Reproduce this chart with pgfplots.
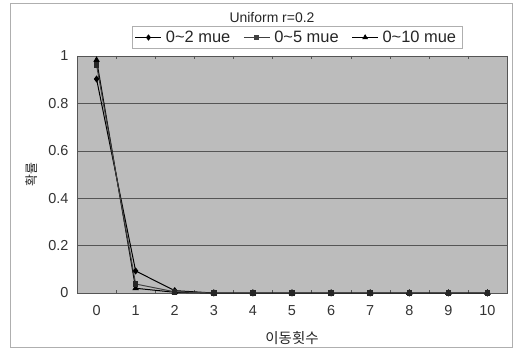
\documentclass[border=0pt]{standalone}
\usepackage{pgfplots}
\pgfplotsset{compat=1.18}
\usepackage{fontspec}
\setmainfont{Liberation Sans}
\newfontfamily\kr{Noto Sans CJK KR}
\definecolor{plotbg}{RGB}{188,188,188}
\definecolor{gridc}{RGB}{85,85,85}
\definecolor{framec}{RGB}{175,175,175}
\begin{document}
\begin{tikzpicture}[x=1bp,y=1bp]
\useasboundingbox (0,0) rectangle (517,348);
\draw[framec,line width=0.8bp] (10.5,1) rectangle (512.5,345);
\node[font=\fontsize{14}{16}\selectfont, text=black!85] at (272,330) {Uniform r=0.2};
\begin{axis}[
  at={(77bp,55bp)}, anchor=south west,
  scale only axis, width=430bp, height=237bp,
  xmin=-0.5, xmax=10.5, ymin=0, ymax=1,
  xtick={0,1,...,10},
  minor xtick={-0.5,0.5,...,10.5},
  ytick={0,0.2,0.4,0.6,0.8,1},
  yticklabels={0,0.2,0.4,0.6,0.8,1},
  major tick length=0pt, minor tick length=3bp,
  tick align=inside,
  minor tick style={gridc},
  ymajorgrids, major grid style={gridc,line width=0.6bp},
  axis background/.style={fill=plotbg},
  axis line style={gridc,line width=0.8bp},
  /pgf/number format/assume math mode=true,
  tick label style={font=\fontsize{14.5}{16}\selectfont, text=black!80},
  xticklabel style={yshift=-9bp},
  yticklabel style={xshift=-5bp},
  xlabel={\kr 이동횟수},
  ylabel={\kr 확률},
  xlabel style={at={(axis description cs:0.5,-0.19)}, anchor=center, font=\fontsize{14.5}{16}\selectfont, text=black!85},
  ylabel style={at={(axis description cs:-0.105,0.5)}, anchor=center, font=\fontsize{13}{15}\selectfont, text=black!85},
  legend style={at={(axis description cs:0.513,1.078)}, anchor=center,
    draw=framec, fill=white, font=\fontsize{16.5}{18}\selectfont, text=black!85,
    inner sep=2.5bp,
    nodes={inner xsep=4bp},
    /tikz/every even column/.append style={column sep=9bp}},
  legend columns=3,
  legend image code/.code={\draw[mark repeat=2,mark phase=2] plot coordinates {(0bp,0bp)(13bp,0bp)(26bp,0bp)};},
]
\addlegendimage{black, line width=0.9bp, mark=diamond*, mark size=2.5bp}
\addlegendentry{0\textasciitilde2 mue}
\addlegendimage{black!75, line width=0.9bp, mark=square*, mark size=2bp}
\addlegendentry{0\textasciitilde5 mue}
\addlegendimage{black, line width=0.9bp, mark=triangle*, mark size=2.5bp}
\addlegendentry{0\textasciitilde10 mue}

\addplot[black, line width=1bp, mark=triangle*, mark size=2.8bp, forget plot] coordinates {
(0,0.983) (1,0.02) (2,0.003) (3,0) (4,0) (5,0) (6,0) (7,0) (8,0) (9,0) (10,0)};
\addplot[black, line width=1bp, mark=diamond*, mark size=2.8bp, forget plot] coordinates {
(0,0.903) (1,0.093) (2,0.01) (3,0) (4,0) (5,0) (6,0) (7,0) (8,0) (9,0) (10,0)};
\addplot[black!75, line width=1bp, mark=square*, mark size=2.2bp, mark options={fill=black!85,draw=black!85}, forget plot] coordinates {
(0,0.962) (1,0.038) (2,0.005) (3,0) (4,0) (5,0) (6,0) (7,0) (8,0) (9,0) (10,0)};
\end{axis}
\end{tikzpicture}
\end{document}
